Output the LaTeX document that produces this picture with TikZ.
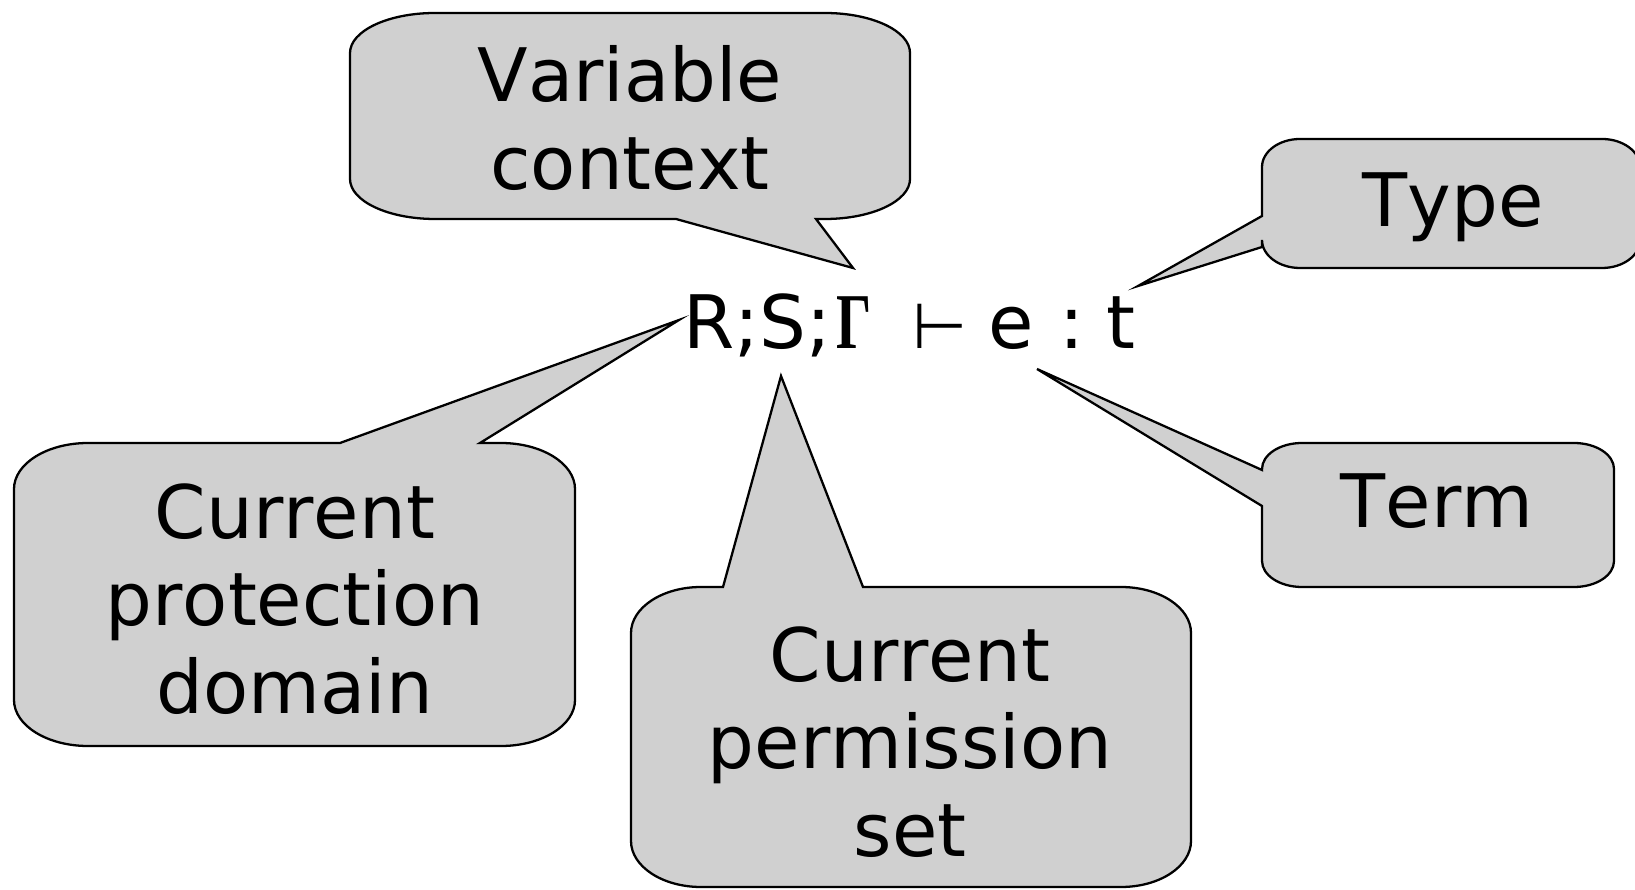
\documentclass[tikz,border=0pt]{standalone}
\usepackage{fontspec}
\setmainfont{DejaVu Sans}[Kerning=Off]
\newfontfamily\gammafont{Liberation Serif}
\definecolor{bubblegray}{RGB}{208,208,208}
\tikzset{
    x=0.02cm, y=0.02cm,
    bubble/.style={draw, fill=bubblegray, line width=1.3pt},
    txt/.style={align=center, inner sep=0pt, font=\fontsize{42}{50}\selectfont}
}
\begin{document}
\begin{tikzpicture}
\useasboundingbox (0,0) rectangle (1635,889);

% tail tips, pointing at the judgement
\coordinate (tipvc) at (853,621);
\coordinate (tipty) at (1138,603);
\coordinate (tiptm) at (1037,520);
\coordinate (tippd) at (679,569);
\coordinate (tipps) at (781,513);

\draw[bubble] (435,876) -- (825,876) arc[start angle=90, end angle=0, x radius=85, y radius=40]
    -- (910,710) arc[start angle=0, end angle=-90, x radius=85, y radius=40]
    -- (816,670) -- (tipvc) -- (676,670)
    -- (435,670) arc[start angle=270, end angle=180, x radius=85, y radius=40]
    -- (350,836) arc[start angle=180, end angle=90, x radius=85, y radius=40] -- cycle;

\draw[bubble] (1300,750) -- (1602,750) arc[start angle=90, end angle=0, x radius=38, y radius=28]
    -- (1640,649) arc[start angle=0, end angle=-90, x radius=38, y radius=28]
    -- (1300,621) arc[start angle=270, end angle=180, x radius=38, y radius=28]
    -- (1262,642) -- (tipty) -- (1262,673)
    -- (1262,722) arc[start angle=180, end angle=90, x radius=38, y radius=28] -- cycle;

\draw[bubble] (1302,446) -- (1574,446) arc[start angle=90, end angle=0, x radius=40, y radius=26]
    -- (1614,328) arc[start angle=0, end angle=-90, x radius=40, y radius=26]
    -- (1302,302) arc[start angle=270, end angle=180, x radius=40, y radius=26]
    -- (1262,383) -- (tiptm) -- (1262,419)
    -- (1262,420) arc[start angle=180, end angle=90, x radius=40, y radius=26] -- cycle;

\draw[bubble] (88,446) -- (340,446) -- (tippd) -- (480,446)
    -- (501,446) arc[start angle=90, end angle=0, x radius=74, y radius=46]
    -- (575,189) arc[start angle=0, end angle=-90, x radius=74, y radius=46]
    -- (88,143) arc[start angle=270, end angle=180, x radius=74, y radius=46]
    -- (14,400) arc[start angle=180, end angle=90, x radius=74, y radius=46] -- cycle;

\draw[bubble] (701,302) -- (723,302) -- (tipps) -- (863,302)
    -- (1121,302) arc[start angle=90, end angle=0, x radius=70, y radius=46]
    -- (1191,48) arc[start angle=0, end angle=-90, x radius=70, y radius=46]
    -- (701,2) arc[start angle=270, end angle=180, x radius=70, y radius=46]
    -- (631,256) arc[start angle=180, end angle=90, x radius=70, y radius=46] -- cycle;

\node[txt] (vc) at (630,771) {Variable\\context};
\node[txt] (ty) at (1453,682) {Type};
\node[txt] (tm) at (1437,388) {Term};
\node[txt] (pd) at (295,290) {Current\\protection\\domain};
\node[txt] (ps) at (910,147) {Current\\permission\\set};

\node[txt, anchor=base west] (judg) at (683,540) {R;S;\kern.07em\scalebox{.7}[1]{\gammafont\bfseries\fontsize{45}{45}\selectfont Γ}\kern.55em{\fontsize{36}{36}\selectfont ⊢}\kern.29em e\kern.35em:\kern.3em t};
\end{tikzpicture}
\end{document}
